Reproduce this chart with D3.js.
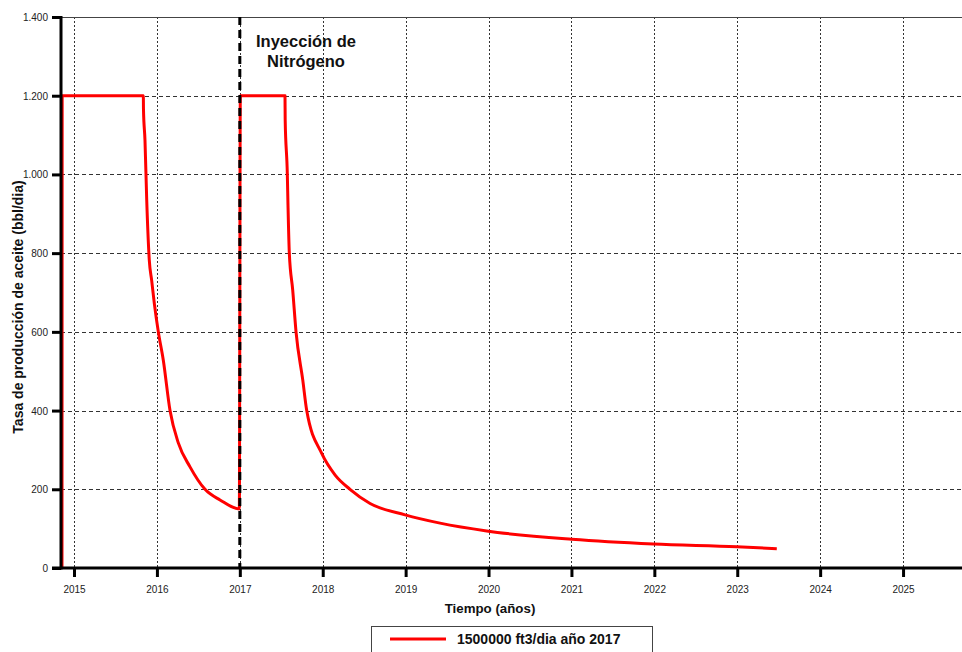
<!DOCTYPE html>
<html>
<head>
<meta charset="utf-8">
<script src="https://cdn.jsdelivr.net/npm/d3@7"></script>
<style>
  html, body { margin: 0; padding: 0; background: #fff; }
  svg { display: block; font-family: "Liberation Sans", Arial, sans-serif; }
</style>
</head>
<body>
<svg id="chart" width="962" height="652"></svg>
<script>
// Oil production rate, single run with nitrogen injection from 2017
const years = [
  2014.855, 2014.857, 2015.836, 2015.838, 2015.856, 2015.877, 2015.908, 2015.937,
  2015.970, 2016.017, 2016.077, 2016.158, 2016.258, 2016.399, 2016.580, 2016.761,
  2016.994, 2017.006, 2017.545, 2017.547, 2017.573, 2017.581, 2017.597, 2017.638,
  2017.678, 2017.759, 2017.807, 2017.988, 2018.150, 2018.329, 2018.571, 2018.993,
  2019.415, 2019.978, 2021.004, 2021.988, 2022.994, 2023.477
];
const rates = [
  0, 1200, 1200, 1164, 1087, 935, 782, 730,
  670, 600, 528, 400, 318, 257, 200, 173,
  150, 1200, 1200, 1140, 1000, 922, 800, 706,
  600, 478, 400, 291, 236, 200, 164, 135,
  114, 94, 73, 61, 54, 49
];
const yearTicks = [2015, 2016, 2017, 2018, 2019, 2020, 2021, 2022, 2023, 2024, 2025];
const rateTicks = [0, 200, 400, 600, 800, 1000, 1200, 1400];
const injectionYear = 2017.0;
const seriesName = "1500000 ft3/dia año 2017";
const annotationLines = ["Inyección de", "Nitrógeno"];
const xTitle = "Tiempo (años)";
const yTitle = "Tasa de producción de aceite (bbl/dia)";

const svg = d3.select("#chart");
const plotL = 61, plotR = 962, plotT = 17, plotB = 568;

const x = d3.scaleLinear().domain([2014.843, 2025.711]).range([plotL, plotR]);
const y = d3.scaleLinear().domain([0, 1400]).range([plotB, plotT]);

const esFormat = d3.formatLocale({ decimal: ",", thousands: ".", grouping: [3], currency: ["", ""] }).format(",");

// grid
const grid = svg.append("g");
grid.selectAll("line.v").data(yearTicks).join("line")
  .attr("x1", d => Math.round(x(d)) + 0.5).attr("x2", d => Math.round(x(d)) + 0.5)
  .attr("y1", plotT).attr("y2", plotB)
  .attr("stroke", "#333").attr("stroke-width", 1).attr("stroke-dasharray", "2,2");
grid.selectAll("line.h").data(rateTicks.filter(d => d > 0 && d < 1400)).join("line")
  .attr("x1", plotL).attr("x2", plotR)
  .attr("y1", d => Math.round(y(d)) + 0.5).attr("y2", d => Math.round(y(d)) + 0.5)
  .attr("stroke", "#333").attr("stroke-width", 1).attr("stroke-dasharray", "4,3");

// top frame
svg.append("line").attr("x1", plotL).attr("x2", plotR)
  .attr("y1", plotT + 0.5).attr("y2", plotT + 0.5)
  .attr("stroke", "#444").attr("stroke-width", 1);

// production curve
const pts = years.map((t, i) => [t, rates[i]]);
svg.append("path").datum(pts)
  .attr("fill", "none").attr("stroke", "#ff0000").attr("stroke-width", 3)
  .attr("stroke-linejoin", "round")
  .attr("d", d3.line().curve(d3.curveMonotoneX).x(d => x(d[0])).y(d => y(d[1])));

// injection marker
svg.append("line")
  .attr("x1", x(injectionYear)).attr("x2", x(injectionYear))
  .attr("y1", plotT).attr("y2", plotB)
  .attr("stroke", "#000").attr("stroke-width", 3).attr("stroke-dasharray", "8,5");

// axes
const yAxis = d3.axisLeft(y).tickValues(rateTicks).tickFormat(esFormat).tickSize(9).tickPadding(4);
const gy = svg.append("g").attr("transform", `translate(${plotL},0)`).call(yAxis);
const xAxis = d3.axisBottom(x).tickValues(yearTicks).tickFormat(d3.format("d")).tickSize(9).tickPadding(9);
const gx = svg.append("g").attr("transform", `translate(0,${plotB})`).call(xAxis);

[gx, gy].forEach(g => {
  g.select(".domain").remove();
  g.selectAll(".tick line").attr("stroke", "#000").attr("stroke-width", 3);
  g.selectAll(".tick text").attr("fill", "#222").style("font-size", "10px")
    .style("font-family", "'Liberation Sans', Arial, sans-serif");
});
gy.selectAll(".tick text").attr("dy", "0.35em");

svg.append("line").attr("x1", plotL).attr("x2", plotL).attr("y1", plotT - 1).attr("y2", plotB + 1.5)
  .attr("stroke", "#000").attr("stroke-width", 3);
svg.append("line").attr("x1", plotL - 9).attr("x2", plotR).attr("y1", plotB).attr("y2", plotB)
  .attr("stroke", "#000").attr("stroke-width", 3);

// annotation
const ann = svg.append("text").attr("text-anchor", "middle")
  .style("font-size", "16.5px").style("font-weight", "bold").attr("fill", "#111");
annotationLines.forEach((s, i) => {
  ann.append("tspan").attr("x", 306).attr("y", 47 + i * 20).text(s);
});

// axis titles
svg.append("text").attr("x", 490).attr("y", 613).attr("text-anchor", "middle")
  .style("font-size", "13.3px").style("font-weight", "bold").attr("fill", "#111").text(xTitle);
svg.append("text").attr("transform", "translate(23,307) rotate(-90)").attr("text-anchor", "middle")
  .style("font-size", "14px").style("font-weight", "bold").attr("fill", "#111").text(yTitle);

// legend
const lg = svg.append("g");
lg.append("rect").attr("x", 371.5).attr("y", 626.5).attr("width", 281).attr("height", 32)
  .attr("fill", "#fff").attr("stroke", "#444").attr("stroke-width", 1);
lg.append("line").attr("x1", 390).attr("x2", 446).attr("y1", 639).attr("y2", 639)
  .attr("stroke", "#ff0000").attr("stroke-width", 3);
lg.append("text").attr("x", 457).attr("y", 644)
  .style("font-size", "14px").style("font-weight", "bold").attr("fill", "#111").text(seriesName);
</script>
</body>
</html>
